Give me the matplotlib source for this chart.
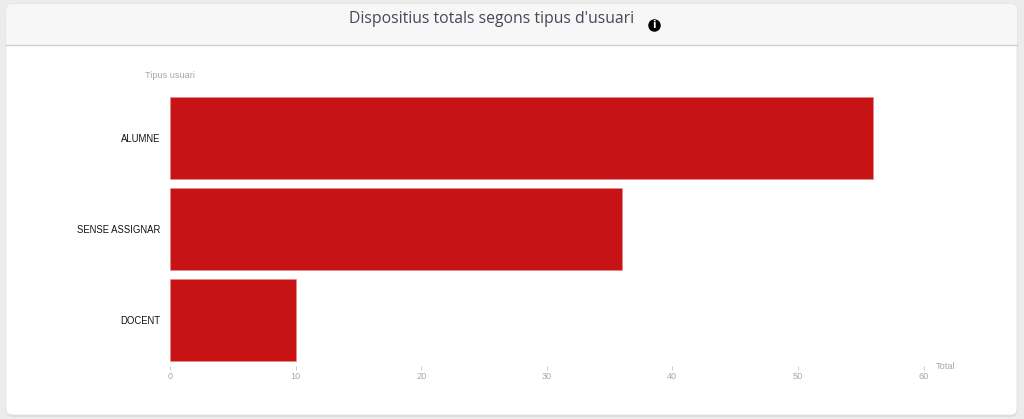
import matplotlib
matplotlib.use('Agg')
import matplotlib.pyplot as plt
from matplotlib.patches import FancyBboxPatch, Rectangle

categories = ['ALUMNE', 'SENSE ASSIGNAR', 'DOCENT']
totals = [56, 36, 10]
x_ticks = [0, 10, 20, 30, 40, 50, 60]

W, H = 1024, 419
plt.rcParams['font.family'] = ['Liberation Sans', 'DejaVu Sans']

fig = plt.figure(figsize=(W / 100, H / 100), dpi=100, facecolor='#ececec')

# page layer in pixel coordinates, y going down
bg = fig.add_axes([0, 0, 1, 1])
bg.set_xlim(0, W)
bg.set_ylim(H, 0)
bg.axis('off')

# card with soft shadow
bg.add_patch(FancyBboxPatch((7, 6), 1010, 411, boxstyle='round,pad=0,rounding_size=6',
                            fc='#dcdcdc', ec='none'))
bg.add_patch(FancyBboxPatch((6, 4), 1011, 411, boxstyle='round,pad=0,rounding_size=6',
                            fc='white', ec='#e0e0e0', lw=0.6))
bg.add_patch(FancyBboxPatch((6, 4), 1011, 41, boxstyle='round,pad=0,rounding_size=6',
                            fc='#f7f7f7', ec='none'))
bg.add_patch(Rectangle((6, 20), 1011, 25, fc='#f7f7f7', ec='none'))
bg.plot([6, 1017], [45.5, 45.5], color='#cfcfcf', lw=1)

bg.text(491.5, 19, "Dispositius totals segons tipus d'usuari", family='Open Sans',
        fontsize=11.3, color='#4a4658', ha='center', va='center')

# info icon
bg.plot([654], [25], 'o', color='black', ms=9, mew=0)
bg.text(654, 25, 'i', family='DejaVu Sans', fontsize=7, weight='bold', color='white',
        ha='center', va='center')

bg.text(145, 75, 'Tipus usuari', fontsize=6.6, color='#a8a8a8', ha='left', va='center')
bg.text(936, 366, 'Total', fontsize=6.6, color='#a8a8a8', ha='left', va='center')

# chart
left, right, top, bottom = 170, 923.5, 92.5, 365.5
ax = fig.add_axes([left / W, 1 - bottom / H, (right - left) / W, (bottom - top) / H])
ax.patch.set_alpha(0)
ax.barh(categories, totals, height=0.9, color='#c81316', edgecolor='#e88a8b', linewidth=0.4)
ax.set_xlim(0, 60)
ax.set_ylim(2.5, -0.5)
ax.set_xticks(x_ticks)
ax.tick_params(axis='x', length=3, width=0.6, color='#c4c4c4', labelcolor='#a8a8a8',
               labelsize=6.6, pad=1.5)
ax.tick_params(axis='y', length=0, labelcolor='#111111', labelsize=6.85, pad=7)
for lab in ax.get_yticklabels():
    lab.set_verticalalignment('center_baseline')
for s in ax.spines.values():
    s.set_visible(False)

fig.savefig('out.png', dpi=100, facecolor=fig.get_facecolor())
